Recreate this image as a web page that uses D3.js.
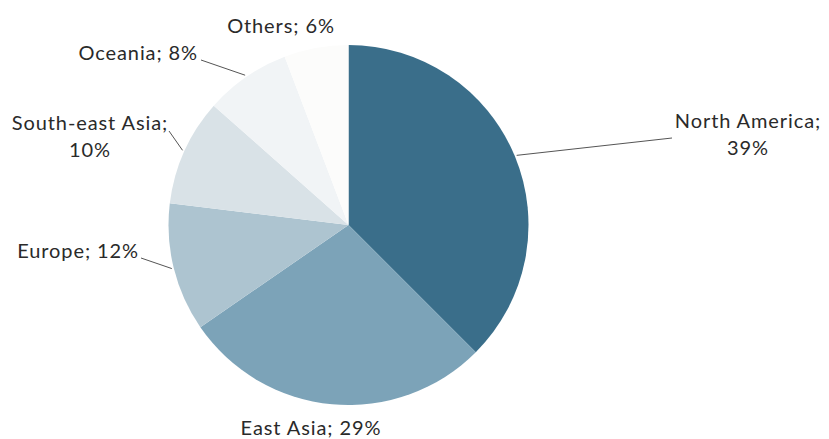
<!DOCTYPE html>
<html>
<head>
<meta charset="utf-8">
<script src="https://cdn.jsdelivr.net/npm/d3@7"></script>
<style>
  html, body { margin: 0; padding: 0; background: #ffffff; }
  svg { display: block; }
  .lbl { font-family: Lato, "Open Sans", sans-serif; font-size: 20px; letter-spacing: 0.9px; fill: #2a2a2a; }
</style>
</head>
<body>
<svg id="chart" width="829" height="439"></svg>
<script>
// Share of total by region (labels are rounded percentages)
const regions = ["North America", "East Asia", "Europe", "South-east Asia", "Oceania", "Others"];
const shares  = [39, 29, 12, 10, 8, 6];
const colours = ["#3a6e8a", "#7ca3b8", "#adc4d0", "#d9e2e7", "#f1f4f6", "#fcfcfb"];

// Label text lines
const labelLines = [
  ["North America;", "39%"],
  ["East Asia; 29%"],
  ["Europe; 12%"],
  ["South-east Asia;", "10%"],
  ["Oceania; 8%"],
  ["Others; 6%"]
];
// Label anchor points and where each leader line leaves the text
const labelPos = [
  { x: 748, y: 128, anchor: "middle", leader: [672, 138] },
  { x: 311, y: 435, anchor: "middle", leader: null },
  { x: 139, y: 258, anchor: "end",    leader: [141, 258] },
  { x: 90,  y: 130, anchor: "middle", leader: [169, 131] },
  { x: 198, y: 60,  anchor: "end",    leader: [201, 60] },
  { x: 281, y: 33,  anchor: "middle", leader: null }
];

const svg = d3.select("#chart");
const cx = 348.5, cy = 225, r = 180;

const pie = d3.pie().sort(null).value(d => d);
const arcs = pie(shares);
const arc = d3.arc().innerRadius(0).outerRadius(r);
const colour = d3.scaleOrdinal().domain(regions).range(colours);

const g = svg.append("g").attr("transform", `translate(${cx},${cy})`);
g.selectAll("path.slice")
  .data(arcs)
  .join("path")
  .attr("class", "slice")
  .attr("d", arc)
  .attr("fill", (d, i) => colour(regions[i]));

// Leader lines from each slice's mid-angle on the rim out to its label
arcs.forEach((a, i) => {
  const p = labelPos[i];
  if (!p.leader) return;
  const ang = (a.startAngle + a.endAngle) / 2;
  const ex = cx + Math.sin(ang) * (r + 2);
  const ey = cy - Math.cos(ang) * (r + 2);
  svg.append("line")
    .attr("x1", p.leader[0]).attr("y1", p.leader[1])
    .attr("x2", ex).attr("y2", ey)
    .attr("stroke", "#555")
    .attr("stroke-width", 1);
});

// Labels
labelLines.forEach((lines, i) => {
  const p = labelPos[i];
  const t = svg.append("text")
    .attr("class", "lbl")
    .attr("x", p.x).attr("y", p.y)
    .attr("text-anchor", p.anchor);
  lines.forEach((s, j) => {
    t.append("tspan")
      .attr("x", p.x)
      .attr("dy", j === 0 ? 0 : 27)
      .text(s);
  });
});
</script>
</body>
</html>
